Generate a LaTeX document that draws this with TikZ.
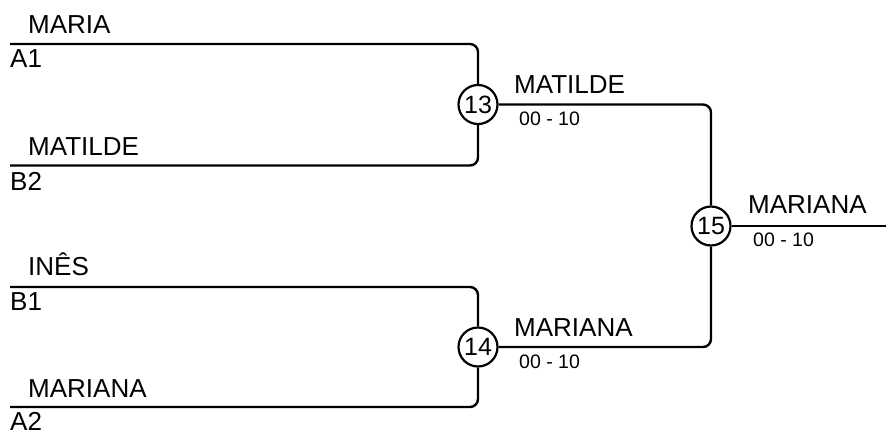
\documentclass[tikz,border=0pt]{standalone}
\usepackage{fontspec}
\setmainfont{Liberation Sans}
\begin{document}
\begin{tikzpicture}[x=1pt,y=-1pt,
  wire/.style={line width=2.4pt, rounded corners=8pt},
  game/.style={circle, draw, line width=2.2pt, minimum size=39pt, inner sep=0pt, font=\fontsize{25}{27}\selectfont},
  pname/.style={anchor=base west, inner sep=0pt, font=\fontsize{26}{30}\selectfont},
  seed/.style={anchor=base west, inner sep=0pt, font=\fontsize{26}{30}\selectfont},
  score/.style={anchor=base west, inner sep=0pt, font=\fontsize{19.5}{22}\selectfont}]
\useasboundingbox (0,0) rectangle (886,431);
% games
\node[game] (g13) at (478,104.5) {13};
\node[game] (g14) at (478,347) {14};
\node[game] (g15) at (711,226) {15};
% line starts
\coordinate (p1) at (10,44);
\coordinate (p2) at (10,165.5);
\coordinate (p3) at (10,287);
\coordinate (p4) at (10,407);
\coordinate (out) at (886,226);
% connectors
\draw[wire] (p1) -| (g13.north);
\draw[wire] (p2) -| (g13.south);
\draw[wire] (p3) -| (g14.north);
\draw[wire] (p4) -| (g14.south);
\draw[wire] (g13.east) -| (g15.north);
\draw[wire] (g14.east) -| (g15.south);
\draw[wire] (g15.east) -- (out);
% player names
\node[pname] (n1) at (28,33) {MARIA};
\node[pname] (n2) at (28,155) {MATILDE};
\node[pname] (n3) at (28,275) {INÊS};
\node[pname] (n4) at (28,397) {MARIANA};
% seeds
\node[seed] (s1) at (10,67) {A1};
\node[seed] (s2) at (10,190) {B2};
\node[seed] (s3) at (10,310) {B1};
\node[seed] (s4) at (10,430) {A2};
% winners
\node[pname] (w13) at (514,93) {MATILDE};
\node[pname] (w14) at (514,336) {MARIANA};
\node[pname] (w15) at (748,213) {MARIANA};
% scores
\node[score] (r13) at (519,125) {00 - 10};
\node[score] (r14) at (519,368) {00 - 10};
\node[score] (r15) at (753,246) {00 - 10};
\end{tikzpicture}
\end{document}
